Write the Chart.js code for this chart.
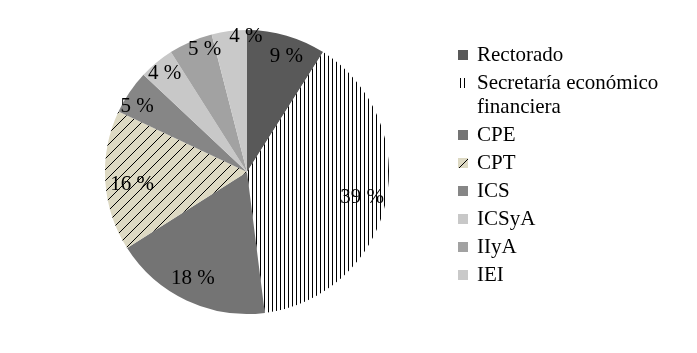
<!DOCTYPE html>
<html>
<head>
<meta charset="utf-8">
<script src="https://cdn.jsdelivr.net/npm/chart.js@4"></script>
<style>
  html, body { margin: 0; padding: 0; background: #fff; }
  #wrap { width: 697px; height: 353px; }
</style>
</head>
<body>
<div id="wrap"><canvas id="myChart"></canvas></div>
<script>
const categories = ['Rectorado', 'Secretaría económico financiera', 'CPE', 'CPT', 'ICS', 'ICSyA', 'IIyA', 'IEI']
const shares = [9, 39, 18, 16, 5, 4, 5, 4]

// where each % label sits: fraction of radius, then a small pixel nudge
const labelRadius = [0.87, 0.83, 0.83, 0.81, 0.91, 0.91, 0.93, 0.96]
const labelNudge = [[5, 3], [0, 0], [-4, 0], [0, 5], [-3, 7], [0, 1], [10, -1], [16, 0]]
const FONT = '"Liberation Serif", "Times New Roman", serif'

function stripes() {
  let c = document.createElement('canvas')
  c.width = 4; c.height = 4
  let g = c.getContext('2d')
  g.fillStyle = '#fff'; g.fillRect(0, 0, 4, 4)
  g.fillStyle = '#000'; g.fillRect(0, 0, 1, 4)
  return g.createPattern(c, 'repeat')
}

function diag() {
  let s = 11
  let c = document.createElement('canvas')
  c.width = s; c.height = s
  let g = c.getContext('2d')
  g.fillStyle = '#ddd9c3'; g.fillRect(0, 0, s, s)
  g.strokeStyle = '#000'; g.lineWidth = 1
  g.beginPath()
  g.moveTo(0, s); g.lineTo(s, 0)
  g.moveTo(-1, 1); g.lineTo(1, -1)
  g.moveTo(s - 1, s + 1); g.lineTo(s + 1, s - 1)
  g.stroke()
  return g.createPattern(c, 'repeat')
}

const fills = ['#595959', stripes(), '#747474', diag(), '#868686', '#c8c8c8', '#a2a2a2', '#c9c9c9']

const pctLabels = {
  id: 'pctLabels',
  afterDatasetsDraw(chart) {
    let ctx = chart.ctx
    let arcs = chart.getDatasetMeta(0).data
    ctx.save()
    ctx.font = '21px ' + FONT
    ctx.fillStyle = '#000'
    ctx.textAlign = 'center'
    ctx.textBaseline = 'middle'
    arcs.forEach((a, i) => {
      let p = a.getProps(['x', 'y', 'startAngle', 'endAngle', 'outerRadius'], true)
      let mid = (p.startAngle + p.endAngle) / 2
      let r = p.outerRadius * labelRadius[i]
      ctx.fillText(shares[i] + ' %', p.x + Math.cos(mid) * r + labelNudge[i][0], p.y + Math.sin(mid) * r + labelNudge[i][1])
    })
    ctx.restore()
  }
}

const sideLegend = {
  id: 'sideLegend',
  afterDraw(chart) {
    let ctx = chart.ctx
    ctx.save()
    ctx.font = '21px ' + FONT
    ctx.textBaseline = 'middle'
    let y = 55
    categories.forEach((name, i) => {
      // wrap long names
      let words = name.split(' '), lines = [], cur = ''
      words.forEach(w => {
        let t = cur ? cur + ' ' + w : w
        if (ctx.measureText(t).width > 195 && cur) { lines.push(cur); cur = w } else cur = t
      })
      lines.push(cur)
      ctx.fillStyle = fills[i]
      ctx.fillRect(458, y - 5, 10, 10)
      ctx.fillStyle = '#000'
      lines.forEach((l, k) => ctx.fillText(l, 477, y + k * 24))
      y += 28 + (lines.length - 1) * 24
    })
    ctx.restore()
  }
}

new Chart(document.getElementById('myChart'), {
  type: 'pie',
  data: {
    labels: categories,
    datasets: [{
      data: shares,
      backgroundColor: fills,
      borderWidth: 0
    }]
  },
  options: {
    responsive: true,
    maintainAspectRatio: false,
    animation: false,
    layout: { padding: { left: 105, right: 308, top: 30, bottom: 39 } },
    plugins: {
      legend: { display: false },
      tooltip: { enabled: false }
    }
  },
  plugins: [pctLabels, sideLegend]
})
</script>
</body>
</html>
